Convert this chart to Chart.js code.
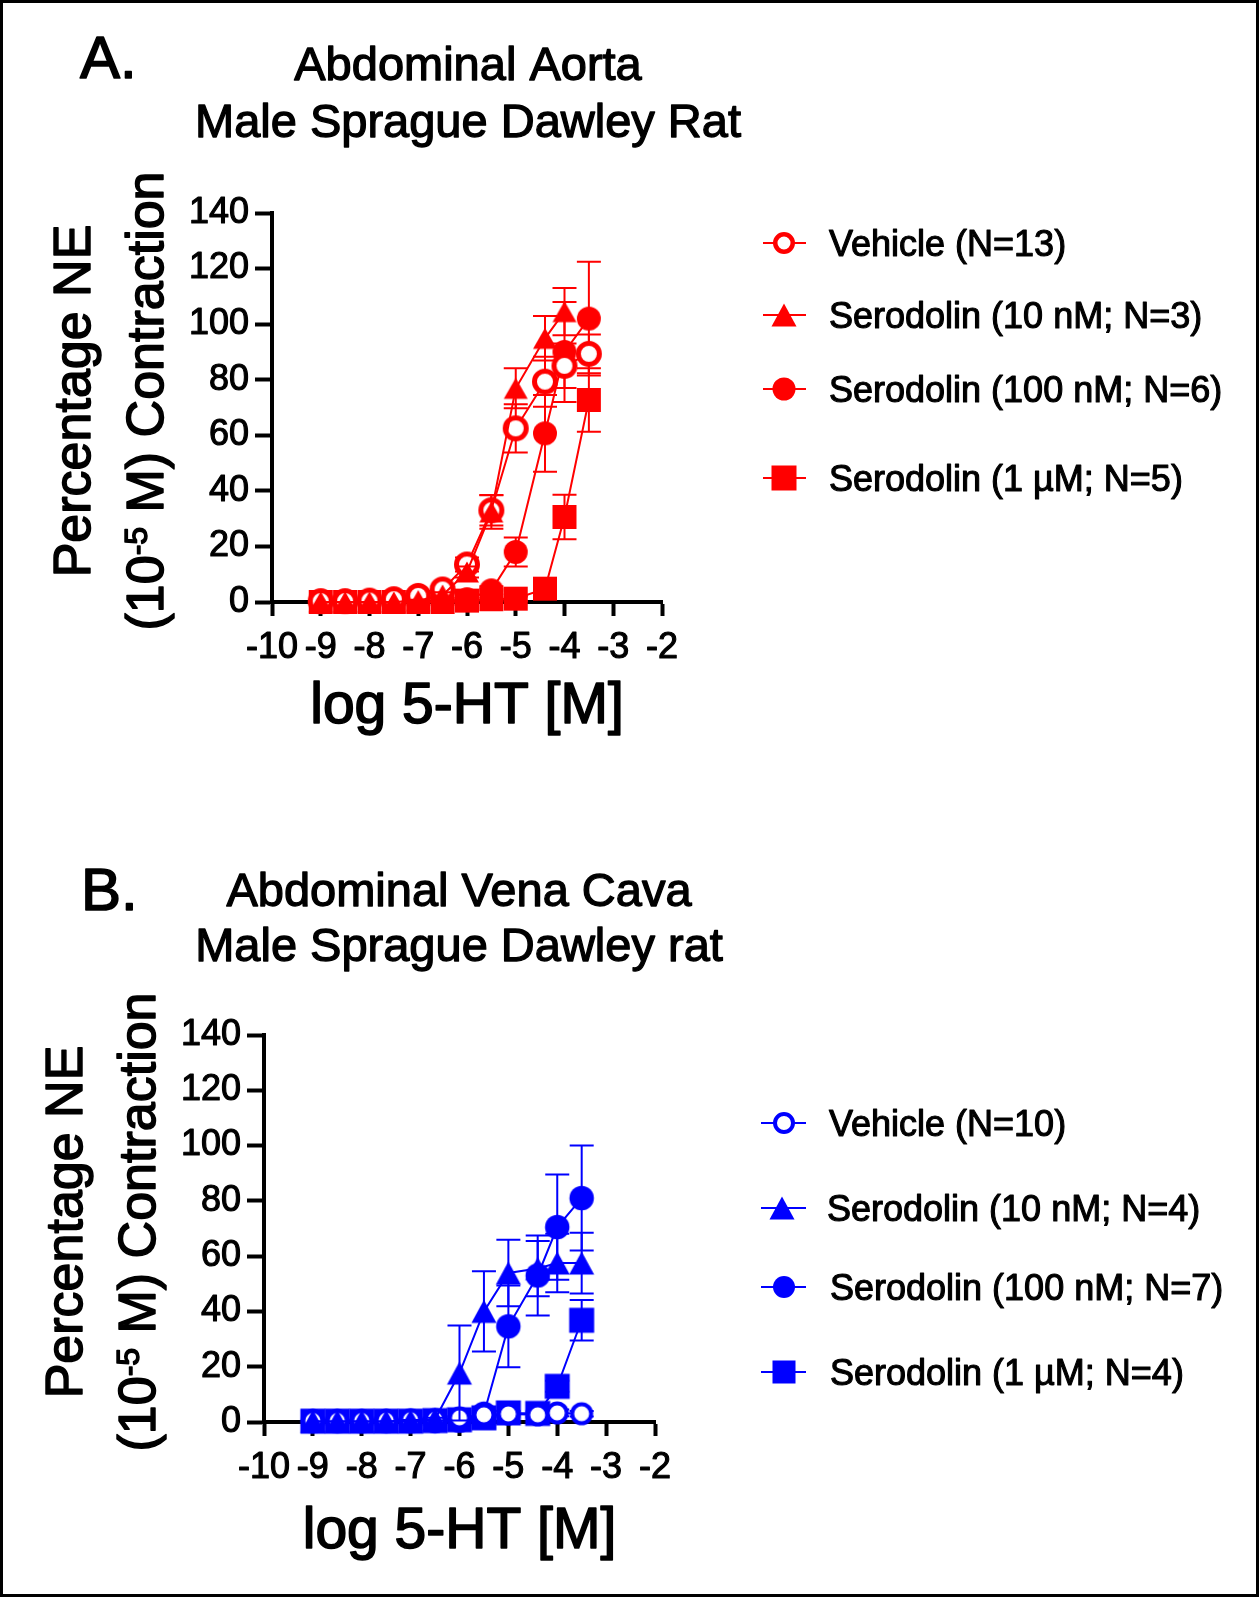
<!DOCTYPE html>
<html>
<head>
<meta charset="utf-8">
<script src="https://cdn.jsdelivr.net/npm/chart.js@4.4.1/dist/chart.umd.min.js"></script>
<style>
  body { margin: 0; background: #fff; }
  #page { position: relative; width: 1259px; height: 1597px; overflow: hidden; background: #fff; }
  #page canvas { position: absolute; left: 0; }
  #frame { position: absolute; left: 0; top: 0; width: 1259px; height: 1597px; box-sizing: border-box; border: 3px solid #000; pointer-events: none; }
</style>
</head>
<body>
<div id="page">
  <canvas id="chartA" width="1259" height="800" style="top:0"></canvas>
  <canvas id="chartB" width="1259" height="797" style="top:800px"></canvas>
  <div id="frame"></div>
</div>
<script>
const FONT = "'Liberation Sans', Arial, Helvetica, sans-serif";

// log [5-HT] concentrations (x)
const logDose = [-9, -8.5, -8, -7.5, -7, -6.5, -6, -5.5, -5, -4.4, -4, -3.5];
const xTickValues = [-10, -9, -8, -7, -6, -5, -4, -3, -2];
const yTickValues = [0, 20, 40, 60, 80, 100, 120, 140];
const xTitle = 'log 5-HT [M]';

// Panel A - abdominal aorta (mean, SEM)
const aortaVehicle    = [0.3, 0.3, 0.5, 1.0, 2.2, 4.5, 13.5, 33, 62.5, 79.3, 85, 89.3];
const aortaVehicleSem = [0.3, 0.3, 0.3, 0.5, 0.8, 1.2, 2.5, 5.5, 8.7, 9, 8, 7];
const aorta10nM       = [0, 0, 0, 0, 0.5, 2.5, 10.8, 32.4, 76.9, 94.9, 104.5, null];
const aorta10nMSem    = [0, 0, 0, 0, 0.3, 1, 2, 6, 7.2, 8, 8.5, null];
const aorta100nM      = [0, 0, 0, 0, 0, 0.3, 1, 4.2, 18, 60.7, 90, 102];
const aorta100nMSem   = [0, 0, 0, 0, 0, 0.3, 0.5, 1.5, 5.2, 13.8, 18, 20.5];
const aorta1uM        = [0, 0, 0, 0, 0, 0, 0.5, 1, 1.2, 4.8, 30.6, 72.7];
const aorta1uMSem     = [0, 0, 0, 0, 0, 0, 0.3, 0.5, 0.8, 1.5, 8, 11.4];
const aortaLabels = ['Vehicle (N=13)', 'Serodolin (10 nM; N=3)', 'Serodolin (100 nM; N=6)', 'Serodolin (1 \u00b5M; N=5)'];

// Panel B - abdominal vena cava (mean, SEM)
const cavaVehicle    = [0.5, 0.5, 0.5, 0.6, 0.8, 0.9, 1.5, 2.6, 2.9, 2.6, 3.3, 3.0];
const cavaVehicleSem = [0.2, 0.2, 0.2, 0.3, 0.3, 0.4, 0.6, 1, 1, 1, 1.2, 1];
const cava10nM       = [0.3, 0.3, 0.3, 0.3, 0.5, 1, 17.7, 40, 53.9, 55.5, 57.5, 57.5];
const cava10nMSem    = [0, 0, 0, 0, 0.2, 0.5, 17.2, 14.5, 12, 10, 10.6, 11];
const cava100nM      = [0.3, 0.3, 0.3, 0.3, 0.3, 0.3, 0.5, 3, 34.6, 53, 70.5, 81];
const cava100nMSem   = [0, 0, 0, 0, 0, 0, 0.3, 1, 14.8, 14.5, 19, 19];
const cava1uM        = [0.3, 0.3, 0.3, 0.3, 0.3, 0.5, 0.8, 1.5, 3.3, 3.1, 12.9, 36.8];
const cava1uMSem     = [0, 0, 0, 0, 0, 0.2, 0.3, 0.5, 0.8, 1, 2, 7.3];
const cavaLabels = ['Vehicle (N=10)', 'Serodolin (10 nM; N=4)', 'Serodolin (100 nM; N=7)', 'Serodolin (1 \u00b5M; N=4)'];

// symbol canvases (GraphPad style), used as Chart.js pointStyle and in the legend
function makeMarker(kind, color, w, h, ring) {
  const c = document.createElement('canvas');
  c.width = 2 * Math.ceil(w / 2) + 2;
  c.height = 2 * Math.ceil(h / 2) + 2;
  const g = c.getContext('2d');
  const cx = c.width / 2, cy = c.height / 2;
  g.fillStyle = color;
  g.beginPath();
  if (kind === 'open') {
    g.arc(cx, cy, w / 2 - ring / 2, 0, Math.PI * 2);
    g.fillStyle = '#fff';
    g.fill();
    g.lineWidth = ring;
    g.strokeStyle = color;
    g.stroke();
  } else if (kind === 'dot') {
    g.arc(cx, cy, w / 2, 0, Math.PI * 2);
    g.fill();
  } else if (kind === 'tri') {
    g.moveTo(cx, cy - h / 2);
    g.lineTo(cx + w / 2, cy + h / 2);
    g.lineTo(cx - w / 2, cy + h / 2);
    g.closePath();
    g.fill();
  } else {
    g.fillRect(cx - w / 2, cy - h / 2, w, h);
  }
  return c;
}

const panels = [
  {
    canvas: 'chartA', color: '#ff0000', letter: 'A.',
    title: ['Abdominal Aorta', 'Male Sprague Dawley Rat'],
    series: [aortaVehicle, aorta10nM, aorta100nM, aorta1uM],
    sem: [aortaVehicleSem, aorta10nMSem, aorta100nMSem, aorta1uMSem],
    labels: aortaLabels,
    area: { left: 272, right: 662, top: 213, bottom: 602 },
    text: {
      letter: [80, 78], titleX: 468, titleY: [80, 137],
      yTitleX: [90, 163], yTitleY: 401, xTitleY: 723,
      legendMarkerX: [784, 784, 784, 784], legendLine: [763, 806],
      legendTextX: [829, 829, 829, 829], legendY: [243, 315, 389, 478]
    },
    markers: [['open', 26, 26, 5], ['tri', 24, 21], ['dot', 24, 24], ['sq', 24, 24]],
    legendMarkers: [['open', 22, 22, 4.5], ['tri', 25, 23], ['dot', 23, 23], ['sq', 25, 25]]
  },
  {
    canvas: 'chartB', color: '#0000ff', letter: 'B.',
    title: ['Abdominal Vena Cava', 'Male Sprague Dawley rat'],
    series: [cavaVehicle, cava10nM, cava100nM, cava1uM],
    sem: [cavaVehicleSem, cava10nMSem, cava100nMSem, cava1uMSem],
    labels: cavaLabels,
    area: { left: 264, right: 655, top: 235, bottom: 622 },
    text: {
      letter: [81, 110], titleX: 459, titleY: [106, 161],
      yTitleX: [82, 155], yTitleY: 422, xTitleY: 748,
      legendMarkerX: [784, 782, 784, 784], legendLine: [761, 806],
      legendTextX: [829, 827, 830, 830], legendY: [323, 408, 487, 572]
    },
    markers: [['open', 23, 23, 4], ['tri', 25, 23], ['dot', 24.5, 24.5], ['sq', 25, 25]],
    legendMarkers: [['open', 22, 22, 4], ['tri', 25, 23], ['dot', 22, 22], ['sq', 23, 23]]
  }
];

// drawing order: triangle on top, then vehicle, 100 nM, 1 uM at the bottom
const drawOrder = [1, 0, 2, 3];

const errorBars = {
  id: 'errorBars',
  beforeDraw(chart) {
    chart.ctx.lineJoin = 'round';
  },
  beforeDatasetDraw(chart, args) {
    const ds = chart.data.datasets[args.index];
    const ys = chart.scales.y;
    const ctx = chart.ctx;
    ctx.save();
    ctx.strokeStyle = ds.borderColor;
    ctx.lineWidth = 2;
    args.meta.data.forEach((pt, i) => {
      const d = ds.data[i];
      if (!d.e) return;
      const top = ys.getPixelForValue(d.y + d.e);
      const bot = ys.getPixelForValue(d.y - d.e);
      ctx.beginPath();
      ctx.moveTo(pt.x, top); ctx.lineTo(pt.x, bot);
      ctx.moveTo(pt.x - 12, top); ctx.lineTo(pt.x + 12, top);
      ctx.moveTo(pt.x - 12, bot); ctx.lineTo(pt.x + 12, bot);
      ctx.stroke();
    });
    ctx.restore();
  }
};

// heavier text, like the original figure
function text(ctx, s, x, y, weight) {
  ctx.fillText(s, x, y);
  ctx.lineWidth = weight;
  ctx.strokeText(s, x, y);
}

function panelText(p, legendIcons) {
  return {
    id: 'panelText',
    afterDraw(chart) {
      const ctx = chart.ctx, a = chart.chartArea, t = p.text;
      ctx.save();
      ctx.fillStyle = '#000';
      ctx.strokeStyle = '#000';
      ctx.lineJoin = 'round';
      ctx.textBaseline = 'alphabetic';

      ctx.textAlign = 'left';
      ctx.font = '60px ' + FONT;
      text(ctx, p.letter, t.letter[0], t.letter[1], 1.6);

      ctx.textAlign = 'center';
      ctx.font = '47px ' + FONT;
      p.title.forEach((s, i) => text(ctx, s, t.titleX, t.titleY[i], 1.3));

      ctx.font = '57px ' + FONT;
      text(ctx, xTitle, (a.left + a.right) / 2, t.xTitleY, 1.6);

      // y axis title, two rotated lines, second one with a superscript
      ctx.save();
      ctx.translate(t.yTitleX[0], t.yTitleY);
      ctx.rotate(-Math.PI / 2);
      ctx.font = '52px ' + FONT;
      text(ctx, 'Percentage NE', 0, 0, 1.5);
      ctx.restore();

      const parts = [['(10', 52, 0], ['-5', 32, 16], [' M) Contraction', 52, 0]];
      let total = 0;
      parts.forEach(q => { ctx.font = q[1] + 'px ' + FONT; q.push(ctx.measureText(q[0]).width); total += q[3]; });
      ctx.save();
      ctx.translate(t.yTitleX[1], t.yTitleY);
      ctx.rotate(-Math.PI / 2);
      ctx.textAlign = 'left';
      let u = -total / 2;
      parts.forEach(q => {
        ctx.font = q[1] + 'px ' + FONT;
        text(ctx, q[0], u, -q[2], 1.5);
        u += q[3];
      });
      ctx.restore();

      // legend
      p.labels.forEach((s, k) => {
        const y = t.legendY[k];
        ctx.strokeStyle = p.color;
        ctx.lineWidth = 2;
        ctx.beginPath();
        ctx.moveTo(t.legendLine[0], y);
        ctx.lineTo(t.legendLine[1], y);
        ctx.stroke();
        const m = legendIcons[k];
        ctx.drawImage(m, Math.round(t.legendMarkerX[k] - m.width / 2), Math.round(y - m.height / 2));
        ctx.strokeStyle = '#000';
        ctx.textAlign = 'left';
        ctx.font = '36px ' + FONT;
        text(ctx, s, t.legendTextX[k], y + 13, 1.1);
      });
      ctx.restore();
    }
  };
}

function axisStyle(tl) {
  return {
    grid: { drawOnChartArea: false, drawTicks: true, tickLength: tl, tickWidth: 4, tickColor: '#000' },
    border: { display: true, width: 4, color: '#000' }
  };
}

const tickFont = { font: { size: 36 }, color: '#000', textStrokeColor: '#000', textStrokeWidth: 1.1 };

panels.forEach(p => {
  const canvas = document.getElementById(p.canvas);
  const W = canvas.width, H = canvas.height;
  const icons = p.markers.map(m => makeMarker(m[0], p.color, m[1], m[2], m[3]));
  const legendIcons = p.legendMarkers.map(m => makeMarker(m[0], p.color, m[1], m[2], m[3]));
  const xAxisH = 120;

  const datasets = p.series.map((vals, k) => ({
    label: p.labels[k],
    data: logDose.map((x, i) => ({ x: x, y: vals[i], e: p.sem[k][i] })).filter(d => d.y !== null),
    showLine: true,
    borderColor: p.color,
    borderWidth: 2,
    pointStyle: icons[k],
    pointRadius: 12,
    pointHoverRadius: 12,
    clip: false,
    order: drawOrder.indexOf(k)
  }));

  new Chart(canvas, {
    type: 'scatter',
    data: { datasets: datasets },
    options: {
      responsive: false,
      animation: false,
      events: [],
      layout: { padding: { left: 0, top: p.area.top, right: W - p.area.right, bottom: H - p.area.bottom - xAxisH } },
      plugins: { legend: { display: false }, tooltip: { enabled: false } },
      scales: {
        x: Object.assign({
          type: 'linear', min: -10, max: -2,
          afterBuildTicks: s => { s.ticks = xTickValues.map(v => ({ value: v })); },
          afterFit: s => { s.height = xAxisH; },
          ticks: Object.assign({ padding: 10, autoSkip: false, maxRotation: 0 }, tickFont)
        }, axisStyle(14)),
        y: Object.assign({
          type: 'linear', min: 0, max: 140,
          afterBuildTicks: s => { s.ticks = yTickValues.map(v => ({ value: v })); },
          afterFit: s => { s.width = p.area.left; },
          ticks: Object.assign({ padding: 6 }, tickFont)
        }, axisStyle(17))
      }
    },
    plugins: [errorBars, panelText(p, legendIcons)]
  });
});
</script>
</body>
</html>
